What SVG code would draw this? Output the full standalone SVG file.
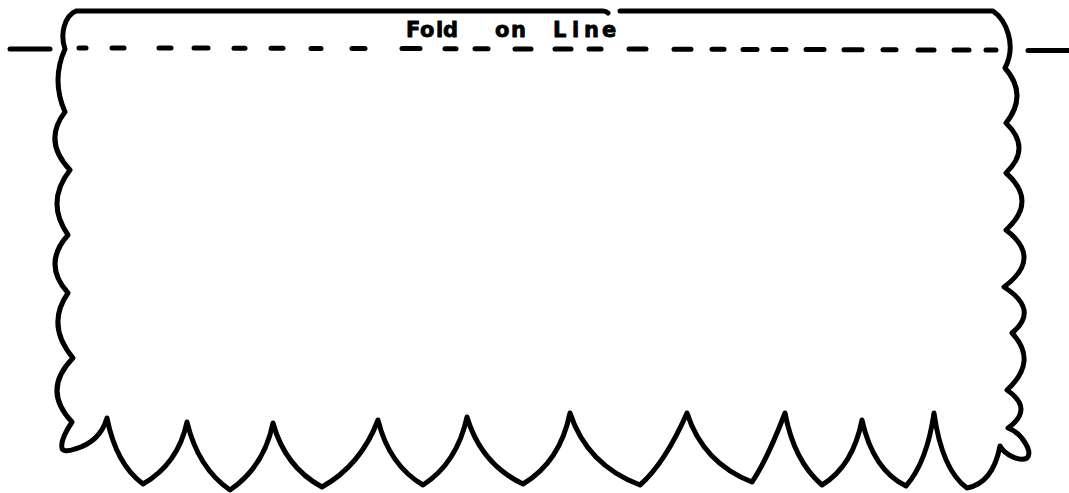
<svg xmlns="http://www.w3.org/2000/svg" width="1069" height="493" viewBox="0 0 1069 493">
  <style>
    .edge { fill: none; stroke: #000; stroke-width: 5; stroke-linejoin: round; stroke-linecap: round; }
    .fold { stroke: #000; stroke-width: 5; stroke-linecap: round; }
    .label { font-family: "DejaVu Sans", "Liberation Sans", sans-serif; font-weight: bold; font-size: 21px; fill: #000; stroke: #000; stroke-width: 0.8; stroke-linejoin: round; }
  </style>
  <rect width="1069" height="493" fill="#fff"/>

  <!-- cut outline of the sheet: top edge, scalloped sides, pointed bottom -->
  <g id="outline">
    <path class="edge" d="M 620 11 L 993 11 C 1006 20 1017 45 1005 68
      Q 1028.5 95 1006 123
      Q 1032 148 1006 173
      Q 1038 201 1006 230
      Q 1043 258 1004 287
      Q 1040 310 1012 333
      Q 1038.5 361 1007 390
      Q 1034.5 409 1008 428
      C 1022 433 1033 452 1027 458
      C 1020 462 1005 455 1000 446
      Q 993 483 967 488
      Q 942 470 934 413
      Q 927 462 906 486
      Q 873 470 862 420
      Q 853 466 822 485
      Q 794 461 785 413
      Q 767 460 752 482
      Q 703 463 687 413
      Q 665 463 640 485
      Q 587 465 570 413
      Q 560 462 523 484
      Q 481 464 467 417
      Q 457 463 423 485
      Q 389 465 378 420
      Q 361 465 322 487
      Q 285 467 273 423
      Q 264 467 230 490
      Q 198 468 187 422
      Q 178 464 143 484
      Q 116 464 107 418
      Q 100 442 75 449
      Q 63 453 62 448
      Q 60 440 72 422
      Q 41.5 390 73 358
      Q 45.5 325 68 293
      Q 42 264 68 235
      Q 45 202 70 170
      Q 42.5 141 65 112
      Q 51 80 65 49
      C 60 35 64 16 76 11
      L 603 11 Q 606 11 608 13"/>
  </g>

  <!-- fold line: solid ends outside the sheet, dashed across it -->
  <g id="fold-line">
    <line class="fold" x1="10" y1="49" x2="50" y2="49"/>
    <line class="fold" x1="1028" y1="50.5" x2="1069" y2="50.5"/>
    <g>
      <line class="fold" x1="79" y1="48" x2="86" y2="48"/>
      <line class="fold" x1="112" y1="48" x2="124" y2="48"/>
      <line class="fold" x1="159" y1="48" x2="171" y2="48"/>
      <line class="fold" x1="194" y1="48" x2="208" y2="48"/>
      <line class="fold" x1="234" y1="48.2" x2="245" y2="48.2"/>
      <line class="fold" x1="271" y1="48.3" x2="283" y2="48.3"/>
      <line class="fold" x1="311" y1="48.4" x2="321" y2="48.4"/>
      <line class="fold" x1="352" y1="48.5" x2="365" y2="48.5"/>
      <line class="fold" x1="402" y1="48.6" x2="420" y2="48.6"/>
      <line class="fold" x1="445" y1="48.7" x2="456" y2="48.7"/>
      <line class="fold" x1="475" y1="48.8" x2="488" y2="48.8"/>
      <line class="fold" x1="515" y1="48.9" x2="531" y2="48.9"/>
      <line class="fold" x1="555" y1="49" x2="571" y2="49"/>
      <line class="fold" x1="589" y1="49" x2="601" y2="49"/>
      <line class="fold" x1="629" y1="49.1" x2="646" y2="49.1"/>
      <line class="fold" x1="674" y1="49.2" x2="691" y2="49.2"/>
      <line class="fold" x1="712" y1="49.3" x2="724" y2="49.3"/>
      <line class="fold" x1="743" y1="49.4" x2="757" y2="49.4"/>
      <line class="fold" x1="773" y1="49.5" x2="786" y2="49.5"/>
      <line class="fold" x1="806" y1="49.6" x2="824" y2="49.6"/>
      <line class="fold" x1="844" y1="49.7" x2="862" y2="49.7"/>
      <line class="fold" x1="883" y1="49.8" x2="896" y2="49.8"/>
      <line class="fold" x1="918" y1="49.9" x2="934" y2="49.9"/>
      <line class="fold" x1="954" y1="50" x2="969" y2="50"/>
      <line class="fold" x1="986" y1="50" x2="996" y2="50"/>
    </g>
  </g>

  <g id="label">
    <text class="label" y="37"><tspan x="406 420 436 443">Fold</tspan> <tspan x="495 511">on</tspan> <tspan x="553 572 584 602">Line</tspan></text>
  </g>
</svg>
